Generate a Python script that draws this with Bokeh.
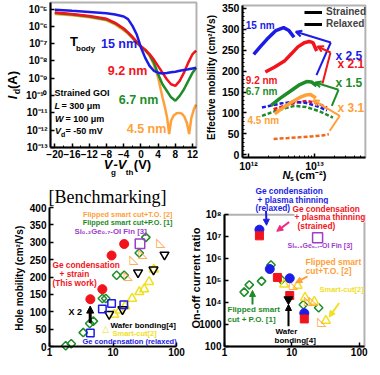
import math
from bokeh.plotting import figure
from bokeh.layouts import column, row
from bokeh.models import (Range1d, FixedTicker, Label, Arrow, BoxAnnotation,
                          NormalHead, OpenHead, Legend, LegendItem)
from bokeh.core.properties import value
from bokeh.embed import file_html
from bokeh.resources import INLINE

FONT = "Liberation Sans"
SERIF = "Liberation Serif"
BLUE = "#1c1ce6"
RED = "#f2141c"
GREEN = "#1e8c28"
ORANGE = "#ffa03a"
DKORANGE = "#ec6a1c"
YELLOW = "#f0e01e"
PURPLE = "#a03ccc"
PINK = "#f02a7c"

# ---------------- (a) Id vs Vg - Vth ----------------
vg_a = [-20, -16, -12, -8, -6, -4, -3, -2, -1, 0, 1, 2, 3, 4, 5, 6, 7, 8, 9, 10, 11, 12, 12.8]
id_15nm = [9.0e-6, 7.8e-6, 6.8e-6, 5.7e-6, 4.8e-6, 3.7e-6, 2.6e-6, 1.1e-6, 3.5e-7, 6.0e-8,
           1.5e-8, 5.2e-9, 2.7e-9, 2.1e-9, 1.9e-9, 2.0e-9, 2.2e-9, 2.4e-9, 2.7e-9, 3.0e-9,
           3.3e-9, 3.7e-9, 4.0e-9]
id_9p2nm = [6.3e-6, 5.2e-6, 4.0e-6, 2.7e-6, 1.6e-6, 7.5e-7, 4.5e-7, 2.5e-7, 1.3e-7, 7.0e-8,
            4.5e-8, 2.5e-8, 1.2e-8, 5.0e-9, 2.1e-9, 8.7e-10, 4.5e-10, 3.6e-10, 7.0e-10, 2.1e-9,
            8.0e-9, 2.5e-8, 4.0e-8]
id_6p7nm = [5.8e-6, 4.8e-6, 3.7e-6, 2.5e-6, 1.5e-6, 7.0e-7, 4.2e-7, 2.3e-7, 1.2e-7, 6.8e-8,
            4.2e-8, 2.2e-8, 8.0e-9, 1.7e-9, 4.5e-10, 1.9e-10, 7.9e-11, 5.0e-11, 9.6e-11, 2.3e-10,
            7.0e-10, 2.1e-9, 4.0e-9]
vg_45 = [-20, -16, -12, -8, -6, -4, -3, -2, -1, 0, 1, 2, 3, 4, 5, 5.6, 6.1, 6.55, 7.0, 7.6,
         8.3, 8.9, 9.5, 10.1, 10.7, 11.2, 11.7, 12.3, 12.8]
id_4p5nm = [5.2e-6, 4.3e-6, 3.3e-6, 2.2e-6, 1.3e-6, 6.0e-7, 3.8e-7, 2.1e-7, 1.1e-7, 6.5e-8,
            4.0e-8, 2.0e-8, 6.0e-9, 1.1e-9, 8.0e-11, 2.0e-11, 5.0e-12, 6.0e-13, 3.5e-12, 7.0e-12,
            9.5e-12, 1.0e-11, 9.0e-12, 6.0e-12, 2.5e-12, 6.0e-13, 5.0e-12, 1.6e-11, 3.0e-11]
a_box = (-21, 12.9, 1e-13, 2.4e-5)
a_xticks = [-20, -16, -12, -8, -4, 0, 4, 8, 12]
a_xminor = [-18, -14, -10, -6, -2, 2, 6, 10]
a_yticks = [1e-13, 1e-12, 1e-11, 1e-10, 1e-9, 1e-8, 1e-7, 1e-6, 1e-5]
a_ylabels = ["10⁻¹³", "10⁻¹²", "10⁻¹¹", "10⁻¹⁰", "10⁻⁹", "10⁻⁸", "10⁻⁷", "10⁻⁶", "10⁻⁵"]

# ---------------- (b) effective mobility vs Ns ----------------
ns_15_s = [1.2e12, 1.5e12, 1.9e12, 2.6e12, 3.4e12, 4.1e12, 4.9e12]
mu_15_s = [240, 258, 276, 297, 304, 297, 281]
ns_92_s = [1.8e12, 2.5e12, 3.5e12, 4.5e12, 5.6e12, 7.0e12, 8.3e12, 9.5e12, 1.08e13]
mu_92_s = [198, 210, 224, 242, 258, 268, 271, 268, 248]
ns_67_s = [2.2e12, 3.0e12, 4.4e12, 6.0e12, 7.6e12, 9.0e12, 1.08e13]
mu_67_s = [118, 135, 153, 168, 175, 174, 165]
ns_45_s = [2.5e12, 3.3e12, 4.4e12, 6.0e12, 7.5e12, 8.7e12, 1.05e13]
mu_45_s = [98, 112, 125, 137, 143, 144, 136]
ns_15_r = [1.6e12, 2.2e12, 3.2e12, 5.0e12, 7.5e12, 1.1e13, 1.55e13]
mu_15_r = [113, 118, 123, 127, 124, 116, 106]
ns_92_r = [2.4e12, 3.5e12, 5.0e12, 7.6e12, 1.1e13, 1.55e13]
mu_92_r = [109, 117, 124, 129, 123, 113]
ns_67_r = [1.6e12, 2.4e12, 3.5e12, 5.0e12, 7.5e12, 1.2e13, 1.9e13]
mu_67_r = [93, 103, 111, 117, 114, 104, 89]
ns_45_r = [2.4e12, 4.0e12, 6.0e12, 9.0e12, 1.3e13, 1.65e13]
mu_45_r = [38, 40, 42, 44, 46, 49]
b_box = (8.1e11, 5.9e13, -6.5, 357)
b_xticks = [1e12, 1e13]
b_xlabels = ["10¹²", "10¹³"]
b_xminor = [2e12, 3e12, 4e12, 5e12, 6e12, 7e12, 8e12, 9e12, 2e13, 3e13, 4e13, 5e13]
b_yticks = [0, 50, 100, 150, 200, 250, 300, 350]
b_yminor = [10, 20, 30, 40, 60, 70, 80, 90, 110, 120, 130, 140, 160, 170, 180, 190,
            210, 220, 230, 240, 260, 270, 280, 290, 310, 320, 330, 340]

# ---------------- (c) hole mobility benchmark ----------------
c_this_x = [4.4, 6.8, 9.5, 15.0]
c_this_mu = [136, 165, 262, 295]
c_relax_x = [4.4, 6.8, 9.5, 14.8]
c_relax_mu = [39, 108, 124, 120]
c_po_x = [1.8, 2.2, 3.4, 4.3, 4.9, 6.8, 7.7, 11.4, 15.0, 25.9, 32.9]
c_po_mu = [2, 8, 40, 66, 73, 138, 138, 205, 205, 269, 314]
c_to_x = [56.6, 29.9, 21.6, 17.5]
c_to_mu = [300, 269, 251, 207]
c_fin_x = [26.6]
c_fin_mu = [296]
c_wb_x = [64.7, 43.4, 24.8, 14.1, 8.7]
c_wb_mu = [264, 221, 213, 107, 93]
c_sc_x = [44.0, 37.0, 31.0, 26.0, 20.0, 15.5, 12.8, 10.5]
c_sc_mu = [222, 186, 165, 157, 138, 116, 104, 92]
c_box = (1, 100, 0, 400)
c_yticks = [0, 50, 100, 150, 200, 250, 300, 350, 400]

# ---------------- (d) on/off ratio benchmark ----------------
d_rx_x = [3.3, 4.7, 9.3, 15.3]
d_rx_r = [2.1e7, 3.4e5, 1.28e5, 3.3e3]
d_st_x = [3.3, 6.1, 9.3, 15.3]
d_st_r = [1.1e7, 1.4e5, 2.1e4, 1.8e3]
d_po_x = [1.96, 2.33, 3.55, 4.9, 7.0, 14.8, 25.0]
d_po_r = [3.0e4, 6.4e4, 9.5e4, 5.2e5, 1.1e5, 8.0e3, 5.8e3]
d_to_x = [10.6, 17.7, 20.8, 27.9]
d_to_r = [7.2e4, 1.26e4, 1.3e4, 1.45e3]
d_sc_x = [7.7, 12.2, 15.7, 21.6, 32.0]
d_sc_r = [6.8e4, 5.9e4, 1.7e4, 1.1e4, 1.5e3]
d_fin_x = [24.1]
d_fin_r = [9.1e6]
d_wb_x = [8.9]
d_wb_r = [1.4e4]
d_box = (1, 119.7, 100, 1e8)
d_yticks = [1e2, 1e3, 1e4, 1e5, 1e6, 1e7, 1e8]
d_ylabels = ["100", "1000", "10⁴", "10⁵", "10⁶", "10⁷", "10⁸"]
cd_xticks = [1, 10, 100]
cd_xlabels = ["1", "10", "100"]


# ---------------- helpers ----------------
def axis_map(p1, v1, p2, v2, log=False):
    """page pixel -> data value, from two reference anchors"""
    t1 = math.log10(v1) if log else v1
    t2 = math.log10(v2) if log else v2

    def f(page):
        t = t1 + (page - p1) * (t2 - t1) / (p2 - p1)
        return 10 ** t if log else t
    return f


def make_fig(w, h, fx, fy, x0, y0, xtype="linear", ytype="linear"):
    # the frame covers the whole canvas; axes are pinned with fixed_location
    p = figure(width=w, height=h,
               x_range=Range1d(fx(x0), fx(x0 + w)), y_range=Range1d(fy(y0 + h), fy(y0)),
               x_axis_type=xtype, y_axis_type=ytype, output_backend="svg",
               toolbar_location=None, min_border=0)
    p.xgrid.visible = False
    p.ygrid.visible = False
    p.background_fill_color = "white"
    p.border_fill_color = "white"
    p.outline_line_color = None
    return p


def style_axis(ax, size="10px", standoff=3):
    ax.axis_line_color = "black"
    ax.axis_line_width = 2
    ax.major_tick_line_color = "black"
    ax.major_tick_line_width = 1.5
    ax.major_tick_in = 4
    ax.major_tick_out = 0
    ax.minor_tick_line_color = "black"
    ax.minor_tick_line_width = 1
    ax.minor_tick_in = 2
    ax.minor_tick_out = 0
    ax.major_label_text_font = FONT
    ax.major_label_text_font_style = "bold"
    ax.major_label_text_color = "black"
    ax.major_label_text_font_size = size
    ax.major_label_standoff = standoff


def setup_axes(p, box, xticker, yticker, xsize="10px", ysize="10px", xstand=2, ystand=3):
    x0, x1, y0, y1 = box
    for ax in p.xaxis:
        ax.ticker = xticker
        style_axis(ax, xsize, xstand)
        ax.fixed_location = y0
        ax.bounds = (x0, x1)
    for ax in p.yaxis:
        ax.ticker = yticker
        style_axis(ax, ysize, ystand)
        ax.fixed_location = x0
        ax.bounds = (y0, y1)


def frame_box(p, box):
    x0, x1, y0, y1 = box
    p.add_layout(BoxAnnotation(left=x0, right=x1, bottom=y0, top=y1, fill_alpha=0,
                               line_color="black", line_width=2))


def txt(p, m, px, py, s, color="black", size=10, style="bold", align="left",
        angle=0.0, font=FONT, bg=None):
    x, y = m(px, py)
    kw = dict(x=x, y=y, text=s, text_color=color, text_font=font,
              text_font_size=f"{size}px", text_font_style=style, text_align=align,
              text_baseline="middle", angle=angle)
    if bg is not None:
        kw["background_fill_color"] = bg
    p.add_layout(Label(**kw))


def arrow(p, m, p0, p1, color, size=6, width=2, open_head=False):
    x0, y0 = m(*p0)
    x1, y1 = m(*p1)
    if open_head:
        head = OpenHead(size=size, line_color=color, line_width=width)
    else:
        head = NormalHead(size=size, fill_color=color, line_color=color, line_width=1)
    p.add_layout(Arrow(end=head, x_start=x0, y_start=y0, x_end=x1, y_end=y1,
                       line_color=color, line_width=width))


# ======================= panel (a) =======================
fx1 = axis_map(62.3, -20, 200.1, 12)
fy1 = axis_map(16.5, 1e-5, 155, 1e-13, True)
m1 = lambda px, py: (fx1(px), fy1(py))
p1 = make_fig(202, 182, fx1, fy1, 8, 8, "linear", "log")
setup_axes(p1, a_box, FixedTicker(ticks=a_xticks, minor_ticks=a_xminor),
           FixedTicker(ticks=a_yticks, minor_ticks=[]))
p1.yaxis.major_label_overrides = dict(zip(a_yticks, a_ylabels))

p1.line(vg_45, id_4p5nm, line_color=ORANGE, line_width=2.5)
p1.line(vg_a, id_6p7nm, line_color=GREEN, line_width=2.5)
p1.line(vg_a, id_9p2nm, line_color=RED, line_width=2.5)
p1.line(vg_a, id_15nm, line_color=BLUE, line_width=2.5)
frame_box(p1, a_box)

txt(p1, m1, 77.5, 48.5, "T", size=13)
txt(p1, m1, 83.5, 55.5, "body", size=8)
txt(p1, m1, 126.5, 51.7, "15 nm", BLUE, 12.5, align="center")
txt(p1, m1, 135, 78.3, "9.2 nm", RED, 12.5, align="center")
txt(p1, m1, 146, 107.3, "6.7 nm", GREEN, 12.5, align="center")
txt(p1, m1, 154, 136.7, "4.5 nm", ORANGE, 12.5, align="center")
txt(p1, m1, 62, 100, "Strained GOI", size=9)
txt(p1, m1, 62, 113.3, "L", size=9, style="bold italic")
txt(p1, m1, 69, 113.3, "= 300  μm", size=9)
txt(p1, m1, 62.5, 126.7, "W", size=9, style="bold italic")
txt(p1, m1, 73, 126.7, "= 100  μm", size=9)
txt(p1, m1, 62.5, 138.3, "V", size=9, style="bold italic")
txt(p1, m1, 68.5, 142, "d", size=7)
txt(p1, m1, 73, 138.3, "= -50 mV", size=9)
txt(p1, m1, 115.5, 172.3, "V", size=13, style="bold italic", align="center")
txt(p1, m1, 121, 179.5, "g", size=8, align="center")
txt(p1, m1, 127.5, 172.3, "-V", size=13, style="bold italic", align="center")
txt(p1, m1, 137, 179.5, "th", size=8, align="center")
txt(p1, m1, 150, 172.3, "(V)", size=13, align="center")
txt(p1, m1, 20, 105, "I", size=13, style="bold italic", align="center", angle=math.pi / 2)
txt(p1, m1, 24, 99, "d", size=9, align="center", angle=math.pi / 2)
txt(p1, m1, 19.5, 87.5, "(A)", size=13, align="center", angle=math.pi / 2)

# ======================= panel (b) =======================
fx2 = axis_map(256, 1e12, 322, 1e13, True)
fy2 = axis_map(162.3, 0, 15.9, 350)
m2 = lambda px, py: (fx2(px), fy2(py))
p2 = make_fig(170, 182, fx2, fy2, 210, 8, "log", "linear")
setup_axes(p2, b_box, FixedTicker(ticks=b_xticks, minor_ticks=b_xminor),
           FixedTicker(ticks=b_yticks, minor_ticks=b_yminor), "10.5px", "10.5px")
p2.xaxis.major_label_overrides = dict(zip(b_xticks, b_xlabels))

p2.line(ns_45_r, mu_45_r, line_color=DKORANGE, line_width=2.5, line_dash="4 2")
p2.line(ns_67_r, mu_67_r, line_color=GREEN, line_width=2.5, line_dash="4 2")
p2.line(ns_92_r, mu_92_r, line_color=RED, line_width=2.5, line_dash="4 2")
p2.line(ns_15_r, mu_15_r, line_color=BLUE, line_width=2.5, line_dash="4 2")
p2.line(ns_45_s, mu_45_s, line_color=ORANGE, line_width=3.5)
p2.line(ns_67_s, mu_67_s, line_color=GREEN, line_width=3.5)
p2.line(ns_92_s, mu_92_s, line_color=RED, line_width=3.5)
p2.line(ns_15_s, mu_15_s, line_color=BLUE, line_width=3.5)
frame_box(p2, b_box)

for col, pts, tip in [
        (BLUE, [(324, 82.7), (338.3, 50)], (303.3, 39.3)),
        (RED, [(330, 91), (338, 60)], (325, 54)),
        (GREEN, [(339.3, 113.3), (346, 97.3)], (322.7, 90)),
        (ORANGE, [(337.3, 138.3), (347.3, 123.3)], (320.7, 107.7))]:
    xy = [m2(*q) for q in pts]
    p2.line([q[0] for q in xy], [q[1] for q in xy], line_color=col, line_width=2)
    arrow(p2, m2, pts[1], tip, col, size=6, width=2, open_head=True)

leg_s = p2.line(x=[1e12, 2e12], y=[-200, -200], line_color="black", line_width=3)
leg_r = p2.line(x=[1e12, 2e12], y=[-200, -200], line_color="black", line_width=3)
legend = Legend(items=[LegendItem(label="Strained", renderers=[leg_s]),
                       LegendItem(label="Relaxed", renderers=[leg_r])],
                location="top_right", background_fill_alpha=0, border_line_color=None,
                label_text_font=FONT, label_text_font_style="bold",
                label_text_font_size="10px", glyph_width=18, glyph_height=10,
                label_height=10, label_standoff=4, spacing=1, padding=2, margin=6)
p2.add_layout(legend)

txt(p2, m2, 253.3, 32.7, "15 nm", BLUE, 10)
txt(p2, m2, 253.3, 87.7, "9.2 nm", RED, 10)
txt(p2, m2, 253.3, 99.3, "6.7 nm", GREEN, 10)
txt(p2, m2, 255, 128.3, "4.5 nm", ORANGE, 10)
txt(p2, m2, 343, 63.3, "x 2.5", BLUE, 12)
txt(p2, m2, 345, 71.7, "x 2.1", RED, 12)
txt(p2, m2, 343, 90, "x 1.5", GREEN, 12)
txt(p2, m2, 345, 115, "x 3.1", ORANGE, 12)
txt(p2, m2, 219, 85, "Effective mobility (cm²/Vs)", size=10, align="center", angle=math.pi / 2)
txt(p2, m2, 294, 182, "N", size=11, style="bold italic", align="center")
txt(p2, m2, 299.5, 186, "s", size=7, align="center")
txt(p2, m2, 303, 182, "(cm⁻²)", size=11)

# ======================= panel (c) =======================
fx3 = axis_map(57, 1, 184, 100, True)
fy3 = axis_map(215, 400, 354, 0)
fy3r = axis_map(215, 400, 362.3, 0)     # reference placement of annotations
m3 = lambda px, py: (fx3(px), fy3r(py))
p3 = make_fig(188, 177, fx3, fy3, 8, 190, "log", "linear")
setup_axes(p3, c_box, FixedTicker(ticks=cd_xticks, minor_ticks=[]),
           FixedTicker(ticks=c_yticks, minor_ticks=[]), "10px", "10px", 1, 3)
p3.xaxis.major_label_overrides = dict(zip(cd_xticks, cd_xlabels))

p3.scatter(c_po_x, c_po_mu, marker="square", angle=math.pi / 4, size=6,
           fill_color=None, line_color=GREEN, line_width=1.5)
p3.scatter(c_sc_x, c_sc_mu, marker="triangle", size=9, fill_color=None,
           line_color=YELLOW, line_width=1.5)
p3.scatter(c_wb_x, c_wb_mu, marker="inverted_triangle", size=9, fill_color=None,
           line_color="black", line_width=1.5)
p3.text(c_to_x, c_to_mu, text=["◺"] * len(c_to_x), text_font=value("DejaVu Sans"),
        text_font_size=value("12px"), text_color=ORANGE, text_align="center",
        text_baseline="middle")
p3.scatter(c_fin_x, c_fin_mu, marker="square", size=9.5, fill_color=None,
           line_color=PURPLE, line_width=1.5)
p3.scatter(c_relax_x, c_relax_mu, marker="square", size=7.5, fill_color=None,
           line_color=BLUE, line_width=1.5)
p3.scatter(c_this_x, c_this_mu, marker="circle", size=9, fill_color=RED, line_color=RED)
arrow(p3, m3, (97.7, 337.5), (97.7, 319.5), "black", size=7, width=3)

txt(p3, m3, 115, 204, "[Benchmarking]", size=18, style="normal", align="center", font=SERIF)
txt(p3, m3, 180, 222.3, "Flipped smart cut+T.O. [2]", ORANGE, 7.3, align="right")
txt(p3, m3, 180, 230.7, "Flipped smart cut+P.O. [1]", GREEN, 7.3, align="right")
txt(p3, m3, 82, 240, "Si₀.₃Ge₀.₇-OI Fin [3]", PURPLE, 7.8)
txt(p3, m3, 60, 275.7, "Ge condensation", RED, 8.3)
txt(p3, m3, 67, 285.5, "+ strain", RED, 8.3)
txt(p3, m3, 60, 295.5, "(This work)", RED, 8.3)
txt(p3, m3, 76, 326, "X 2", "black", 9)
txt(p3, m3, 118, 340.3, "Wafer bonding[4]", "black", 8)
txt(p3, m3, 113.3, 344, "△", YELLOW, 9, align="center", font="DejaVu Sans")
txt(p3, m3, 120, 349, "Smart-cut[2]", YELLOW, 7.5)
txt(p3, m3, 90, 357.5, "Ge condensation (relaxed)", BLUE, 7.5)
txt(p3, m3, 27, 290, "Hole mobility (cm²/Vs)", size=10, align="center", angle=math.pi / 2)

# ======================= panel (d) =======================
fx4 = axis_map(232, 1, 366.7, 100, True)
fy4 = axis_map(222.3, 1e8, 354, 100, True)
fy4r = axis_map(222.3, 1e8, 363.3, 100, True)
m4 = lambda px, py: (fx4(px), fy4r(py))
p4 = make_fig(184, 177, fx4, fy4, 196, 190, "log", "log")
setup_axes(p4, d_box, FixedTicker(ticks=cd_xticks, minor_ticks=[]),
           FixedTicker(ticks=d_yticks, minor_ticks=[]), "10px", "10px", 1, 3)
p4.xaxis.major_label_overrides = dict(zip(cd_xticks, cd_xlabels))
p4.yaxis.major_label_overrides = dict(zip(d_yticks, d_ylabels))

p4.scatter(d_po_x, d_po_r, marker="square", angle=math.pi / 4, size=6,
           fill_color=None, line_color=GREEN, line_width=1.5)
p4.scatter(d_sc_x, d_sc_r, marker="triangle", size=9, fill_color=None,
           line_color=YELLOW, line_width=1.5)
p4.text(d_to_x, d_to_r, text=["◺"] * len(d_to_x), text_font=value("DejaVu Sans"),
        text_font_size=value("12px"), text_color=ORANGE, text_align="center",
        text_baseline="middle")
p4.scatter(d_fin_x, d_fin_r, marker="square", size=10, fill_color=None,
           line_color=PURPLE, line_width=1.5)
p4.scatter(d_rx_x, d_rx_r, marker="circle", size=9, fill_color=BLUE, line_color=BLUE)
p4.scatter(d_st_x, d_st_r, marker="square", size=8, fill_color=RED, line_color=RED)
p4.scatter(d_wb_x, d_wb_r, marker="inverted_triangle", size=9, fill_color="black",
           line_color="black")
frame_box(p4, d_box)

arrow(p4, m4, (273.5, 218.3), (274, 233.5), BLUE)
arrow(p4, m4, (296.7, 230), (284.3, 240), PINK)
arrow(p4, m4, (315, 288.3), (303.3, 295), ORANGE)
arrow(p4, m4, (346.7, 316.7), (336.7, 331.7), YELLOW)
arrow(p4, m4, (260, 318.3), (260, 303.3), GREEN)
arrow(p4, m4, (296, 341.7), (296, 318.3), "black")

txt(p4, m4, 263, 196.7, "Ge condensation", BLUE, 8.3)
txt(p4, m4, 265, 206, "+ plasma thinning", BLUE, 8.3)
txt(p4, m4, 263, 215, "(relaxed)", BLUE, 8.3)
txt(p4, m4, 300, 216, "Ge condensation", RED, 8.3, bg="white")
txt(p4, m4, 302, 225, "+ plasma thinning", RED, 8.3, bg="white")
txt(p4, m4, 305, 234.3, "(strained)", RED, 8.3, bg="white")
txt(p4, m4, 295, 255, "Si₀.₃Ge₀.₇-OI Fin [3]", PURPLE, 7)
txt(p4, m4, 313, 272.7, "Flipped smart", ORANGE, 8.5)
txt(p4, m4, 313, 282.7, "cut+T.O. [2]", ORANGE, 8.5)
txt(p4, m4, 327, 302.3, "Smart-cut[2]", YELLOW, 7.5)
txt(p4, m4, 235, 324, "Flipped smart", GREEN, 8)
txt(p4, m4, 235, 334, "cut + P.O. [1]", GREEN, 8)
txt(p4, m4, 283, 347.3, "Wafer", "black", 8)
txt(p4, m4, 282, 356.7, "bonding[4]", "black", 8)
txt(p4, m4, 203.3, 290, "On-off current ratio", size=11, align="center", angle=math.pi / 2)

layout = column(row(p1, p2), row(p3, p4))
open("out.html", "w").write(file_html(layout, INLINE))
